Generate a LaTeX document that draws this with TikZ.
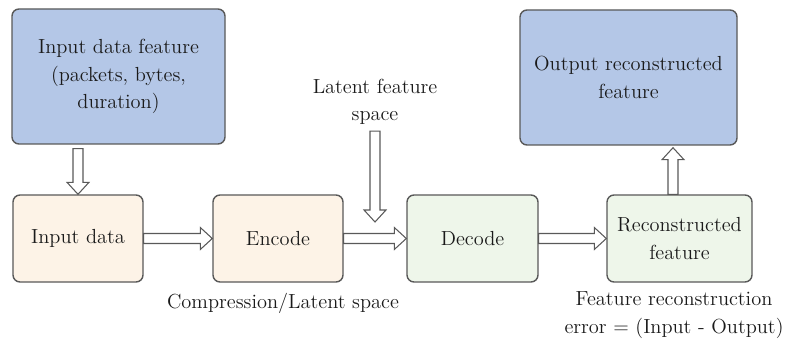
\documentclass[tikz,border=0pt]{standalone}
\usetikzlibrary{calc}
\definecolor{featblue}{HTML}{B4C7E7}
\definecolor{encpeach}{HTML}{FDF3E7}
\definecolor{decgreen}{HTML}{EEF6EA}
\definecolor{boxline}{HTML}{595959}
\definecolor{txt}{HTML}{1A1A1A}
\tikzset{
  box/.style={draw=boxline, line width=0.8pt, rounded corners=4pt, align=center,
    text=txt, minimum height=1.74cm, minimum width=2.6cm},
  caption/.style={align=center, text=txt},
  hollow/.style={draw=boxline, fill=white, line width=0.6pt, line join=miter, to path={
      ($(\tikztotarget)!0.24cm!(\tikztostart)$) coordinate (neck)
      ($(\tikztostart)!0.1cm!90:(\tikztotarget)$) -- ($(neck)!0.1cm!90:(\tikztotarget)$)
      -- ($(neck)!0.22cm!90:(\tikztotarget)$) -- (\tikztotarget)
      -- ($(neck)!0.22cm!-90:(\tikztotarget)$) -- ($(neck)!0.1cm!-90:(\tikztotarget)$)
      -- ($(\tikztostart)!0.1cm!-90:(\tikztotarget)$) -- cycle}},
}
\begin{document}
\begin{tikzpicture}[font=\fontsize{11.6pt}{15.6pt}\selectfont]
                \useasboundingbox (0,0) rectangle (15.74,6.9);
                \node [box, fill=featblue, minimum width=4.26cm, minimum height=2.7cm] (feat) at (2.37,5.37) {Input data feature\\(packets, bytes,\\duration)};
                \node [box, fill=featblue, minimum width=4.34cm, minimum height=2.7cm] (out) at (12.57,5.35) {Output reconstructed\\feature};
                \node [box, fill=encpeach] (inp) at (1.56,2.13) {Input data};
                \node [box, fill=encpeach] (enc) at (5.56,2.13) {Encode};
                \node [box, fill=decgreen, minimum width=2.62cm] (dec) at (9.45,2.13) {Decode};
                \node [box, fill=decgreen, minimum width=2.9cm] (rec) at (13.59,2.13) {Reconstructed\\feature};
                \node [caption] (latent) at (7.5,4.86) {Latent feature\\space};
                \node [caption] (comp) at (5.66,0.84) {Compression/Latent space};
                \node [caption] (err) at (13.48,0.6) {Feature reconstruction\\error = (Input - Output)};
                \coordinate (latend) at (7.5,2.46);
                \draw [hollow] ($(feat.south -| inp.north)+(0,-0.08)$) to (inp.north);
                \draw [hollow] (inp.east) to (enc.west);
                \draw [hollow] (enc.east) to (dec.west);
                \draw [hollow] (dec.east) to (rec.west);
                \draw [hollow] (latent.south) to (latend);
                \draw [hollow] ($(rec.north)+(-0.13,0)$) to ($(rec.north |- out.south)+(-0.13,-0.04)$);
            \end{tikzpicture}
\end{document}
